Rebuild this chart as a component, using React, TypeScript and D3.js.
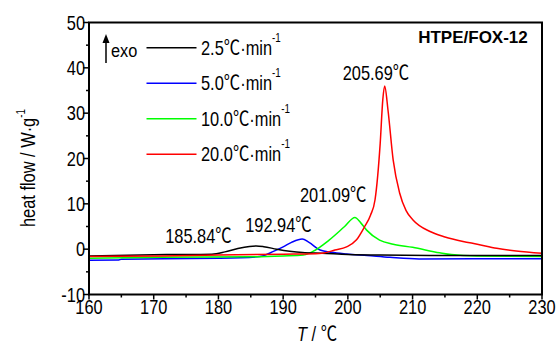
import React from "react";
import * as d3 from "d3";

const W = 558;
const H = 346;
const M = { left: 89, right: 542, top: 22.5, bottom: 294.5 };

const xTicks = [160, 170, 180, 190, 200, 210, 220, 230];
const yTicks = [-10, 0, 10, 20, 30, 40, 50];

const rates = ["2.5", "5.0", "10.0", "20.0"];
const colors = ["#000000", "#0000ff", "#00ff00", "#ff0000"];

const black: [number, number][] = [
  [160, -1.5], [172, -1.2], [179, -1.1], [181, -0.6], [183, 0.15], [184.8, 0.6], [185.84, 0.7],
  [187, 0.55], [189, 0.0], [191, -0.45], [193, -0.75], [196, -0.9], [200, -1.15], [205, -1.3],
  [215, -1.4], [230, -1.4],
];
const blue: [number, number][] = [
  [160, -2.45], [164.5, -2.4], [165, -2.2], [180, -2.0], [186, -1.7], [186.8, -1.5], [188.5, -0.5],
  [190, 0.5], [191.3, 1.5], [192.94, 2.25], [194, 1.5], [195.7, -0.2], [197.5, -0.7], [199.8, -1.06],
  [203, -1.4], [206.5, -1.8], [211, -2.15], [230, -2.1],
];
const green: [number, number][] = [
  [160, -2.0], [171, -1.8], [185, -1.7], [190, -1.5], [193.1, -1.3], [194.6, -0.5], [197.1, 2.0],
  [199.5, 5.0], [201.09, 7.0], [202, 5.8], [202.9, 4.2], [204.9, 2.0], [207, 1.1], [210, 0.4],
  [214.2, -0.8], [216, -1.2], [220, -1.5], [230, -1.6],
];
const red: [number, number][] = [
  [160, -1.6], [171, -1.5], [180, -1.3], [190, -1.1], [195, -1.0], [196, -0.9], [198, -0.2],
  [199.8, 0.5], [201.3, 2.0], [202.6, 5.0], [203.5, 7.5], [204.2, 10.9], [205.0, 23.4],
  [205.4, 33], [205.69, 36], [206.2, 30.7], [207, 19.7], [208, 12.4], [209, 8.5], [210.1, 6.4],
  [212.7, 3.9], [215, 2.7], [217.8, 1.7], [220, 1.1], [223, 0.2], [226, -0.4], [230, -0.9],
];

const peakLabels = ["185.84", "192.94", "201.09", "205.69"];
const peakX = [185.84, 192.94, 201.09, 205.69];
const peakY = [0.7, 2.25, 7.0, 36];

const FONT = "'Liberation Sans', Arial, sans-serif";
const CJK = "'Noto Sans CJK SC', 'Liberation Sans', sans-serif";
const SX = 0.82;

function NT(props: {
  x: number;
  y: number;
  size?: number;
  anchor?: string;
  rotate?: number;
  sx?: number;
  children: React.ReactNode;
}) {
  const { x, y, size = 20, anchor = "start", rotate = 0, sx = SX, children } = props;
  return (
    <text
      transform={`translate(${x},${y}) rotate(${rotate}) scale(${sx},1)`}
      fontSize={size}
      textAnchor={anchor}
    >
      {children}
    </text>
  );
}

const Deg = () => <tspan fontFamily={CJK}>℃</tspan>;

export default function App() {
  const x = d3.scaleLinear().domain([160, 230]).range([M.left, M.right]);
  const y = d3.scaleLinear().domain([-10, 50]).range([M.bottom, M.top]);
  const line = d3
    .line<[number, number]>()
    .x((d) => x(d[0]))
    .y((d) => y(d[1]))
    .curve(d3.curveMonotoneX);

  const series = [blue, green, black, red];
  const seriesColors = [colors[1], colors[2], colors[0], colors[3]];

  const xMinor = d3.range(165, 230, 10);
  const yMinor = d3.range(-5, 50, 10);

  const labelDx = [-91, -57, -55, -42];
  const labelDy = [-3, -7.3, -15.6, -6];

  return (
    <svg
      width={W}
      height={H}
      style={{ position: "absolute", left: 0, top: 0, display: "block", background: "#fff" }}
      fontFamily={FONT}
    >
      <rect x={0} y={0} width={W} height={H} fill="#fff" />
      {series.map((s, i) => (
        <path key={i} d={line(s) || ""} fill="none" stroke={seriesColors[i]} strokeWidth={1.5} />
      ))}
      <rect
        x={M.left}
        y={M.top}
        width={M.right - M.left}
        height={M.bottom - M.top}
        fill="none"
        stroke="#000"
        strokeWidth={2}
      />
      {xTicks.map((t) => (
        <g key={"xt" + t}>
          <line x1={x(t)} x2={x(t)} y1={M.bottom} y2={M.bottom + 5} stroke="#000" strokeWidth={1.5} />
          <NT x={x(t)} y={M.bottom + 19.5} anchor="middle">
            {t}
          </NT>
        </g>
      ))}
      {xMinor.map((t) => (
        <line key={"xm" + t} x1={x(t)} x2={x(t)} y1={M.bottom} y2={M.bottom + 3} stroke="#000" strokeWidth={1.5} />
      ))}
      {yTicks.map((t) => (
        <g key={"yt" + t}>
          <line x1={M.left - 6} x2={M.left} y1={y(t)} y2={y(t)} stroke="#000" strokeWidth={1.5} />
          <NT x={M.left - 4} y={y(t) + 7} anchor="end">
            {t}
          </NT>
        </g>
      ))}
      {yMinor.map((t) => (
        <line key={"ym" + t} x1={M.left - 3} x2={M.left} y1={y(t)} y2={y(t)} stroke="#000" strokeWidth={1.5} />
      ))}
      <NT x={317} y={341} anchor="middle">
        <tspan fontStyle="italic">T</tspan>
        <tspan> / </tspan>
        <Deg />
      </NT>
      <NT x={35} y={168} anchor="middle" rotate={-90}>
        heat flow / W·g
        <tspan fontSize={12} dy={-10}>-1</tspan>
      </NT>
      <line x1={106} x2={106} y1={42} y2={63} stroke="#000" strokeWidth={1.5} />
      <path d="M102.5,43 L106,34 L109.5,43 Z" fill="#000" />
      <NT x={111} y={57} size={19} sx={0.86}>
        exo
      </NT>
      {rates.map((r, i) => {
        const ly = 47.7 + i * 35.5;
        return (
          <g key={"lg" + i}>
            <line x1={146.5} x2={196.5} y1={ly} y2={ly} stroke={colors[i]} strokeWidth={1.5} />
            <NT x={201} y={ly + 7}>
              {r}
              <Deg />
              ·min
              <tspan fontSize={12} dy={-13}>-1</tspan>
            </NT>
          </g>
        );
      })}
      <text x={473} y={43} textAnchor="middle" fontSize={17} fontWeight="bold">
        HTPE/FOX-12
      </text>
      {peakLabels.map((l, i) => (
        <NT key={"pk" + i} x={x(peakX[i]) + labelDx[i]} y={y(peakY[i]) + labelDy[i]}>
          {l}
          <Deg />
        </NT>
      ))}
    </svg>
  );
}
